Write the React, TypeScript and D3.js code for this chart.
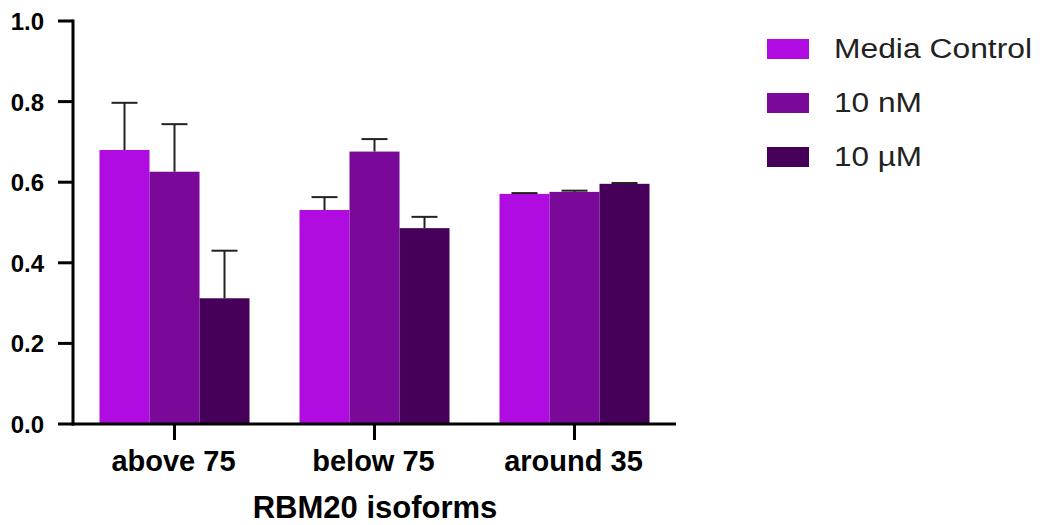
import React from "react";
import * as d3 from "d3";

const categories = ["above 75", "below 75", "around 35"];
const seriesNames = ["Media Control", "10 nM", "10 µM"];
const mediaControl = [0.68, 0.531, 0.571];
const mediaControlErr = [0.117, 0.032, 0.002];
const tenNM = [0.626, 0.676, 0.576];
const tenNMErr = [0.118, 0.031, 0.003];
const tenUM = [0.312, 0.486, 0.596];
const tenUMErr = [0.118, 0.028, 0.002];
const yTicks = [0, 0.2, 0.4, 0.6, 0.8, 1.0];
const colors = ["#B00BE0", "#7A0898", "#47005A"];
const legendWidths = [198, 88, 88];

const W = 1042;
const H = 525;
const FONT = "'Liberation Sans', Arial, sans-serif";

export default function App() {
  const values = [mediaControl, tenNM, tenUM];
  const errors = [mediaControlErr, tenNMErr, tenUMErr];
  const x0 = d3.scaleBand<string>().domain(categories).range([73, 676]).paddingInner(0.25).paddingOuter(0.1325);
  const x1 = d3.scaleBand<string>().domain(seriesNames).range([0, x0.bandwidth()]).padding(0);
  const y = d3.scaleLinear().domain([0, 1]).range([424, 21]);
  const capW = 26;

  return (
    <svg width={W} height={H} style={{ position: "absolute", left: 0, top: 0, background: "#fff" }} fontFamily={FONT}>
      {/* bars */}
      {categories.map((c, ci) => (
        <g key={c} transform={`translate(${x0(c)},0)`}>
          {seriesNames.map((s, si) => {
            const v = values[si][ci];
            const e = errors[si][ci];
            const bx = x1(s)!;
            const cx = bx + x1.bandwidth() / 2;
            return (
              <g key={s}>
                <rect x={bx} y={y(v)} width={x1.bandwidth()} height={y(0) - y(v)} fill={colors[si]} />
                <line x1={cx} x2={cx} y1={y(v)} y2={y(v + e)} stroke="#222" strokeWidth={2} />
                <line x1={cx - capW / 2} x2={cx + capW / 2} y1={y(v + e)} y2={y(v + e)} stroke="#222" strokeWidth={2} />
              </g>
            );
          })}
        </g>
      ))}
      {/* y axis */}
      <line x1={73} x2={73} y1={y(1) - 1.5} y2={y(0) + 1.5} stroke="#000" strokeWidth={3} />
      {yTicks.map((t) => (
        <g key={t}>
          <line x1={58} x2={73} y1={y(t)} y2={y(t)} stroke="#000" strokeWidth={3} />
          <text x={44} y={y(t) + 9} textAnchor="end" fontSize={24} fontWeight="bold" fill="#000">
            {d3.format(".1f")(t)}
          </text>
        </g>
      ))}
      {/* x axis */}
      <line x1={71.5} x2={676} y1={y(0)} y2={y(0)} stroke="#000" strokeWidth={3} />
      {categories.map((c) => {
        const cx = x0(c)! + x0.bandwidth() / 2;
        return (
          <g key={c}>
            <line x1={cx} x2={cx} y1={y(0)} y2={y(0) + 16} stroke="#000" strokeWidth={3} />
            <text x={cx - 1} y={471} textAnchor="middle" fontSize={29} fontWeight="bold" fill="#000">
              {c}
            </text>
          </g>
        );
      })}
      <text x={375} y={518} textAnchor="middle" fontSize={31} fontWeight="bold" fill="#000">
        RBM20 isoforms
      </text>
      {/* legend */}
      {seriesNames.map((s, i) => (
        <g key={s} transform={`translate(0,${i * 54})`}>
          <rect x={767} y={39} width={42} height={20} fill={colors[i]} />
          <text x={834} y={58} fontSize={27} fill="#222" textLength={legendWidths[i]} lengthAdjust="spacingAndGlyphs">
            {s}
          </text>
        </g>
      ))}
    </svg>
  );
}
